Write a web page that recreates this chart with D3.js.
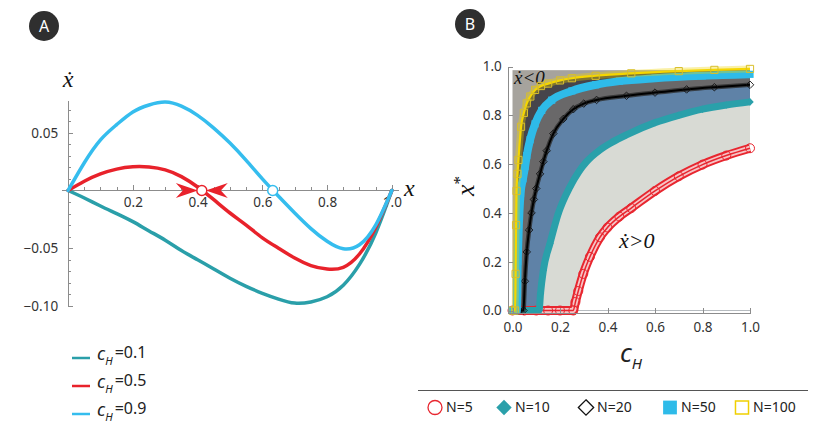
<!doctype html>
<html>
<head>
<meta charset="utf-8">
<style>
	body { margin: 0; background: #fff; }
	.tick text { font: 13.5px "Noto Sans", sans-serif; fill: #333; }
	.axis path, .axis line { stroke: #8c8c8c; stroke-width: 1; shape-rendering: crispEdges; }
	.lgd-txt { font: 14px "Noto Sans", sans-serif; fill: #222; }
	.badge-txt { font: 16px "Noto Sans", sans-serif; fill: #fff; }
	.math { font-family: "Liberation Serif", "DejaVu Serif", serif; font-style: italic; fill: #111; }
</style>
<script src="https://cdn.jsdelivr.net/npm/d3@7"></script>
</head>
<body>
<div id="canvas"></div>
<script>
// ---- panel A : xdot against x for three values of c_H
var xGrid = [0, 0.05, 0.1, 0.15, 0.2, 0.25, 0.3, 0.35, 0.4, 0.45, 0.5,
	0.55, 0.6, 0.65, 0.7, 0.75, 0.8, 0.85, 0.9, 0.95, 1.0];
var xdotC01 = [0, -0.0065, -0.0134, -0.020, -0.027, -0.035, -0.043, -0.052, -0.060, -0.068, -0.076,
	-0.083, -0.089, -0.094, -0.0975, -0.0965, -0.092, -0.082, -0.064, -0.037, 0];
var xdotC05 = [0, 0.008, 0.0143, 0.0185, 0.0205, 0.0203, 0.0178, 0.012, 0.003, -0.008, -0.0195,
	-0.030, -0.041, -0.050, -0.0585, -0.065, -0.068, -0.0665, -0.055, -0.032, 0];
var xdotC09 = [0, 0.024, 0.0438, 0.057, 0.068, 0.074, 0.0765, 0.073, 0.065, 0.054, 0.041,
	0.026, 0.010, -0.005, -0.0195, -0.033, -0.044, -0.0505, -0.047, -0.030, 0];
var cHLabels = ["0.1", "0.5", "0.9"];
var cHColors = ["#2a9fa9", "#e8222b", "#35bdee"];
var stableEq = 0.413;    // red curve, arrows point in
var unstableEq = 0.632;  // light blue curve
var xTicksA = [0.2, 0.4, 0.6, 0.8, 1.0];
var yTicksA = [-0.10, -0.05, 0.05];

// ---- panel B : x* against c_H, one series per group size N
var n5 = [[0, 0], [0.05, 0], [0.1, 0], [0.15, 0], [0.2, 0], [0.256, 0], [0.265, 0.035], [0.277, 0.08],
	[0.298, 0.15], [0.326, 0.22], [0.368, 0.30], [0.4, 0.34], [0.45, 0.385], [0.5, 0.42], [0.6, 0.49],
	[0.7, 0.55], [0.8, 0.598], [0.9, 0.635], [1.0, 0.665]];
var n10 = [[0, 0], [0.04, 0], [0.08, 0], [0.112, 0], [0.118, 0.07], [0.13, 0.165], [0.158, 0.275],
	[0.193, 0.398], [0.242, 0.507], [0.28, 0.57], [0.312, 0.61], [0.368, 0.658], [0.42, 0.69],
	[0.48, 0.72], [0.6, 0.77], [0.7, 0.80], [0.8, 0.825], [0.9, 0.842], [1.0, 0.855]];
var n20 = [[0, 0], [0.025, 0], [0.046, 0], [0.052, 0.12], [0.06, 0.24], [0.07, 0.33], [0.08, 0.40],
	[0.09, 0.455], [0.1, 0.50], [0.116, 0.56], [0.13, 0.61], [0.144, 0.655], [0.172, 0.725],
	[0.214, 0.785], [0.256, 0.825], [0.3, 0.848], [0.354, 0.863], [0.48, 0.88], [0.6, 0.893],
	[0.733, 0.906], [0.85, 0.915], [1.0, 0.925]];
var n50 = [[0, 0], [0.01, 0], [0.018, 0], [0.022, 0.2], [0.025, 0.3], [0.034, 0.48], [0.044, 0.54],
	[0.053, 0.59], [0.06, 0.635], [0.074, 0.70], [0.095, 0.765], [0.123, 0.82], [0.165, 0.862],
	[0.25, 0.9], [0.35, 0.925], [0.45, 0.94], [0.6, 0.952], [0.8, 0.962], [1.0, 0.968]];
var n100 = [[0, 0], [0.011, 0], [0.013, 0.15], [0.015, 0.35], [0.017, 0.49], [0.021, 0.56],
	[0.025, 0.617], [0.036, 0.753], [0.048, 0.81], [0.06, 0.849], [0.075, 0.877], [0.095, 0.904],
	[0.12, 0.92], [0.15, 0.93], [0.2, 0.943], [0.25, 0.952], [0.35, 0.962], [0.5, 0.972],
	[0.7, 0.981], [0.85, 0.986], [1.0, 0.99]];
var nLabels = ["N=5", "N=10", "N=20", "N=50", "N=100"];
var regionFills = ["#ffffff", "#d8dad4", "#5f82a7", "#696869", "#46444b"];
var bgFill = "#a6a39d";
var ticksB = [0, 0.2, 0.4, 0.6, 0.8, 1.0];

var width = 830, height = 431;

var svg = d3.select("#canvas").append("svg")
	.attr("width", width)
	.attr("height", height);

// ================= panel A =================
var xA = d3.scaleLinear().domain([-0.022, 1.019]).range([61, 398]);
var yA = d3.scaleLinear().domain([-0.10, 0.0783]).range([306, 100]);

var gA = svg.append("g").attr("id", "panelA");

// minor ticks first, then majors with labels
gA.append("g").attr("class", "axis")
	.attr("transform", `translate(0, ${yA(0)})`)
	.call(d3.axisBottom(xA).tickValues(d3.range(1, 21).map(i => i * 0.05)).tickSizeInner(-3).tickSizeOuter(0).tickFormat(""));
gA.append("g").attr("class", "axis")
	.attr("transform", `translate(0, ${yA(0)})`)
	.call(d3.axisBottom(xA).tickValues(xTicksA).tickSizeInner(-5).tickSizeOuter(0).tickPadding(6).tickFormat(d3.format(".1f")));

gA.append("g").attr("class", "axis")
	.attr("transform", `translate(${xA(0)}, 0)`)
	.call(d3.axisLeft(yA).tickValues(d3.range(-10, 8).map(i => i * 0.01)).tickSizeInner(-3).tickSizeOuter(0).tickFormat(""));
gA.append("g").attr("class", "axis")
	.attr("transform", `translate(${xA(0)}, 0)`)
	.call(d3.axisLeft(yA).tickValues(yTicksA).tickSizeInner(-5).tickSizeOuter(0).tickPadding(10).tickFormat(d3.format(".2f")));

gA.selectAll(".tick text").attr("dy", "0.75em");
gA.selectAll(".axis").filter((d, i) => i === 3).selectAll(".tick text").attr("dy", "0.35em");

var lineA = d3.line()
	.x((d, i) => xA(xGrid[i]))
	.y(d => yA(d))
	.curve(d3.curveNatural);

[xdotC01, xdotC05, xdotC09].forEach(function(s, k) {
	gA.append("path")
		.attr("d", lineA(s))
		.attr("fill", "none")
		.attr("stroke", cHColors[k])
		.attr("stroke-width", 3.5)
		.attr("stroke-linecap", "round");
});

// arrows towards the stable point
var arrowHead = function(tipX, dir) {
	var p = d3.path();
	p.moveTo(tipX, yA(0));
	p.lineTo(tipX - dir * 22, yA(0) - 7.5);
	p.lineTo(tipX - dir * 15, yA(0));
	p.lineTo(tipX - dir * 22, yA(0) + 7.5);
	p.closePath();
	return p.toString();
};
gA.append("path").attr("d", arrowHead(xA(stableEq) - 4, 1)).attr("fill", cHColors[1]);
gA.append("path").attr("d", arrowHead(xA(stableEq) + 4, -1)).attr("fill", cHColors[1]);

gA.append("circle").attr("cx", xA(stableEq)).attr("cy", yA(0)).attr("r", 5)
	.attr("fill", "#fff").attr("stroke", cHColors[1]).attr("stroke-width", 1.5);
gA.append("circle").attr("cx", xA(unstableEq)).attr("cy", yA(0)).attr("r", 5)
	.attr("fill", "#fff").attr("stroke", cHColors[2]).attr("stroke-width", 1.5);

gA.append("text").attr("class", "math")
	.attr("x", 68).attr("y", 87).attr("text-anchor", "middle")
	.style("font-size", "24px").text("ẋ");
gA.append("text").attr("class", "math")
	.attr("x", 404).attr("y", 196)
	.style("font-size", "24px").text("x");

// legend A
var lgdA = gA.selectAll(".lgdA").data(cHLabels).enter().append("g")
	.attr("transform", (d, i) => `translate(72, ${358 + i * 28})`);
lgdA.append("line").attr("x1", 0).attr("x2", 18)
	.attr("stroke", (d, i) => cHColors[i]).attr("stroke-width", 2.5);
var lgdAText = lgdA.append("text").attr("class", "lgd-txt").attr("x", 25).attr("y", 0)
	.style("font-size", "16px");
lgdAText.append("tspan").attr("font-style", "italic").style("font-size", "18px").attr("dy", "0.1em").text("c");
lgdAText.append("tspan").attr("font-style", "italic").style("font-size", "11px").attr("dy", "0.45em").text("H");
lgdAText.append("tspan").attr("dy", "-0.45em").attr("dx", 2).text(d => "=" + d);

// ================= panel B =================
var xB = d3.scaleLinear().domain([0, 1]).range([512.5, 750]);
var yB = d3.scaleLinear().domain([0, 1]).range([310.5, 66.5]);
var yTop = 0.985;

var gB = svg.append("g").attr("id", "panelB");

gB.append("clipPath").attr("id", "clipB")
	.append("rect")
	.attr("x", xB(0)).attr("y", yB(yTop))
	.attr("width", xB(1) - xB(0)).attr("height", yB(0) - yB(yTop));

gB.append("rect")
	.attr("x", xB(0)).attr("y", yB(yTop))
	.attr("width", xB(1) - xB(0)).attr("height", yB(0) - yB(yTop))
	.attr("fill", bgFill);

var seriesB = [n5, n10, n20, n50, n100];

var areaB = d3.area()
	.x(d => xB(d[0]))
	.y0(yB(0))
	.y1(d => yB(d[1]))
	.curve(d3.curveMonotoneX);

var lineB = d3.line()
	.x(d => xB(d[0]))
	.y(d => yB(d[1]))
	.curve(d3.curveMonotoneX);

// regions under each boundary, largest N first
[4, 3, 2, 1, 0].forEach(function(k) {
	gB.append("path")
		.attr("d", areaB(seriesB[k]))
		.attr("fill", regionFills[k])
		.attr("clip-path", "url(#clipB)");
});

gB.append("text").attr("class", "math")
	.attr("x", 514).attr("y", 84)
	.style("font-size", "19px").text("ẋ<0");
gB.append("text").attr("class", "math")
	.attr("x", 619).attr("y", 248)
	.style("font-size", "22px").text("ẋ>0");

var diamond = d3.symbol().type(d3.symbolDiamond2).size(36);
var square = d3.symbol().type(d3.symbolSquare).size(52);

// N=5 : open red circles
gB.append("path").attr("d", lineB(n5)).attr("fill", "none").attr("stroke", "#e8262f").attr("stroke-width", 9);
gB.append("path").attr("d", lineB(n5)).attr("fill", "none").attr("stroke", "#f6c4c6").attr("stroke-width", 5);
gB.append("path").attr("d", lineB(n5)).attr("fill", "none").attr("stroke", "#e8262f").attr("stroke-width", 1.5);
gB.selectAll(".m5").data(n5).enter().append("circle")
	.attr("cx", d => xB(d[0])).attr("cy", d => yB(d[1])).attr("r", 4.5)
	.attr("fill", "none").attr("stroke", "#e8262f").attr("stroke-width", 1);

// N=10 : filled teal diamonds
gB.append("path").attr("d", lineB(n10)).attr("fill", "none").attr("stroke", "#2aa0aa").attr("stroke-width", 7);
gB.selectAll(".m10").data(n10).enter().append("path")
	.attr("d", diamond)
	.attr("transform", d => `translate(${xB(d[0])}, ${yB(d[1])})`)
	.attr("fill", "#2aa0aa");

// N=20 : open black diamonds
gB.append("path").attr("d", lineB(n20)).attr("fill", "none").attr("stroke", "#2c2c2c").attr("stroke-width", 4.5).attr("stroke-opacity", 0.8);
gB.append("path").attr("d", lineB(n20)).attr("fill", "none").attr("stroke", "#000").attr("stroke-width", 2);
gB.selectAll(".m20").data(n20).enter().append("path")
	.attr("d", diamond)
	.attr("transform", d => `translate(${xB(d[0])}, ${yB(d[1])})`)
	.attr("fill", "none").attr("stroke", "#111").attr("stroke-width", 0.9);

// N=50 : filled blue squares
gB.append("path").attr("d", lineB(n50)).attr("fill", "none").attr("stroke", "#2ebbe9").attr("stroke-width", 8);
gB.selectAll(".m50").data(n50).enter().append("path")
	.attr("d", square)
	.attr("transform", d => `translate(${xB(d[0])}, ${yB(d[1])})`)
	.attr("fill", "#2ebbe9");

// N=100 : open yellow squares
gB.append("path").attr("d", lineB(n100)).attr("fill", "none").attr("stroke", "#f2d500").attr("stroke-width", 7).attr("stroke-opacity", 0.35);
gB.append("path").attr("d", lineB(n100)).attr("fill", "none").attr("stroke", "#f5d600").attr("stroke-width", 2.2);
gB.selectAll(".m100").data(n100).enter().append("path")
	.attr("d", square)
	.attr("transform", d => `translate(${xB(d[0])}, ${yB(d[1])})`)
	.attr("fill", "none").attr("stroke", "#d9bf2a").attr("stroke-width", 1);

// axes B
var xBAxisScale = xB.copy().domain([-0.02, 1]).range([xB(-0.02), xB(1)]);
var yBAxisScale = yB.copy().domain([-0.012, 1]).range([yB(-0.012), yB(1)]);

gB.append("g").attr("class", "axis")
	.attr("transform", `translate(0, ${yB(-0.012)})`)
	.call(d3.axisBottom(xBAxisScale).tickValues(ticksB).tickSizeInner(-5).tickSizeOuter(0).tickPadding(8).tickFormat(d3.format(".1f")))
	.selectAll(".tick text").attr("dy", "0.75em");

gB.append("g").attr("class", "axis")
	.attr("transform", `translate(${xB(-0.02)}, 0)`)
	.call(d3.axisLeft(yBAxisScale).tickValues(ticksB).tickSizeInner(-5).tickSizeOuter(0).tickPadding(6).tickFormat(d3.format(".1f")));

var cTitle = gB.append("text").attr("x", 620).attr("y", 362)
	.style("font-family", "'Noto Sans', sans-serif").style("font-style", "italic").attr("fill", "#222");
cTitle.append("tspan").style("font-size", "26px").text("c");
cTitle.append("tspan").style("font-size", "15px").attr("dy", 7).text("H");

var yTitle = gB.append("text").attr("class", "math")
	.attr("transform", "translate(474, 186) rotate(-90)")
	.attr("text-anchor", "middle");
yTitle.append("tspan").style("font-size", "26px").text("x");
yTitle.append("tspan").style("font-size", "17px").attr("dy", -9).style("font-style", "normal").text("*");

// legend B
svg.append("line").attr("x1", 418).attr("x2", 808).attr("y1", 390.5).attr("y2", 390.5)
	.attr("stroke", "#555").attr("stroke-width", 1);

var lgdBx = [435, 504, 586, 670, 742];
var lgdB = svg.selectAll(".lgdB").data(nLabels).enter().append("g")
	.attr("transform", (d, i) => `translate(${lgdBx[i]}, 407.5)`);
lgdB.append("text").attr("class", "lgd-txt").attr("x", 11).attr("dy", "0.35em").text(d => d);

lgdB.filter((d, i) => i === 0).append("circle").attr("r", 7)
	.attr("fill", "#fff").attr("stroke", "#e8262f").attr("stroke-width", 1.3);
lgdB.filter((d, i) => i === 1).append("path")
	.attr("d", d3.symbol().type(d3.symbolDiamond2).size(150)).attr("fill", "#2aa0aa");
lgdB.filter((d, i) => i === 2).append("path")
	.attr("d", d3.symbol().type(d3.symbolDiamond2).size(150)).attr("fill", "#fff").attr("stroke", "#111").attr("stroke-width", 1.3);
lgdB.filter((d, i) => i === 3).append("path")
	.attr("d", d3.symbol().type(d3.symbolSquare).size(190)).attr("fill", "#2ebbe9");
lgdB.filter((d, i) => i === 4).append("path")
	.attr("d", d3.symbol().type(d3.symbolSquare).size(170)).attr("fill", "#fff").attr("stroke", "#f0d000").attr("stroke-width", 1.5);

// badges
var badges = [["A", 44, 26], ["B", 470, 24]];
badges.forEach(function(b) {
	svg.append("circle").attr("cx", b[1]).attr("cy", b[2]).attr("r", 15).attr("fill", "#2f2f2f");
	svg.append("text").attr("class", "badge-txt").attr("x", b[1]).attr("y", b[2])
		.attr("text-anchor", "middle").attr("dy", "0.36em").text(b[0]);
});
</script>
</body>
</html>
